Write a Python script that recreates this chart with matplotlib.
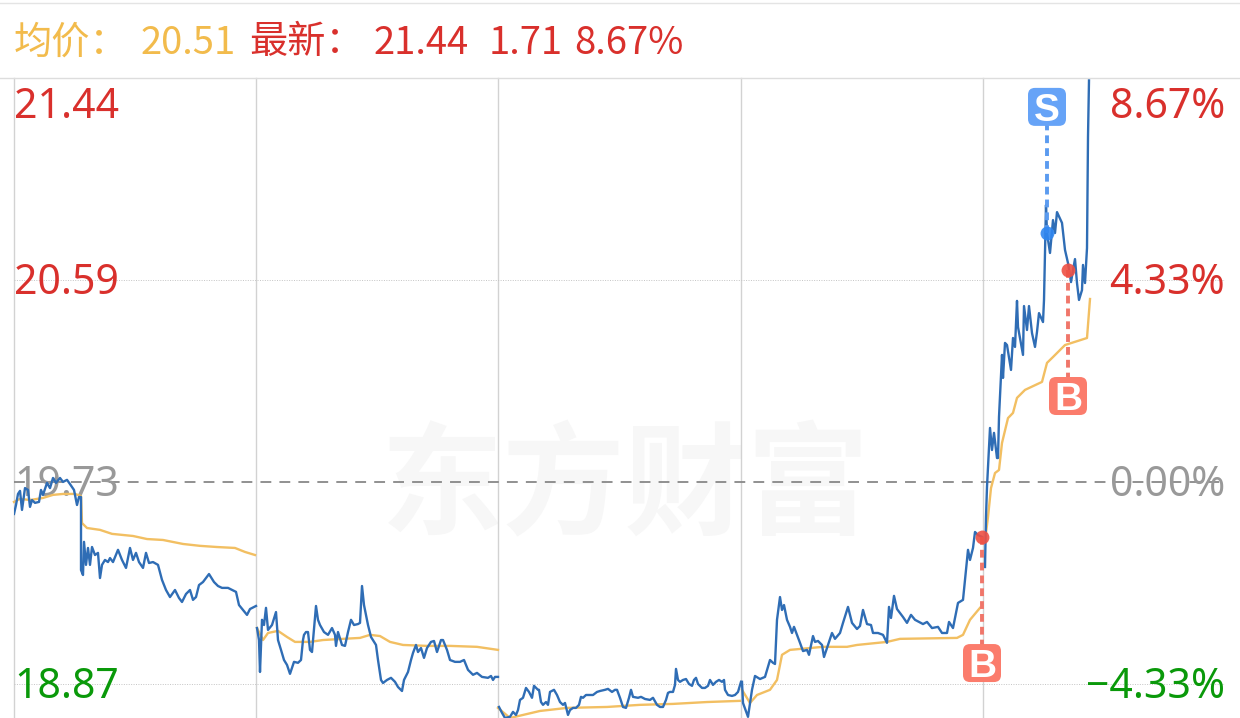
import matplotlib
matplotlib.use("Agg")
import matplotlib.pyplot as plt
from matplotlib.patches import FancyBboxPatch
from matplotlib.transforms import IdentityTransform

plt.rcParams["font.family"] = ["Noto Sans", "Noto Sans CJK SC", "DejaVu Sans"]

# bar index per session, price per bar
idx_1 = [0, 2, 4, 6, 8, 11, 14, 16, 18, 21, 25, 27, 29, 33, 36, 39, 42, 46, 49, 53, 56, 60, 63, 65, 67, 67, 69, 70, 72, 74, 76, 78, 81, 84, 86, 88, 91, 94, 96, 99, 104, 108, 112, 116, 119, 122, 125, 129, 132, 135, 139, 144, 148, 152, 156, 161, 165, 168, 172, 176, 179, 182, 185, 189, 195, 200, 204, 208, 214, 222, 225, 229, 233, 236, 242]
price_1 = [19.594, 19.632, 19.679, 19.692, 19.611, 19.704, 19.696, 19.624, 19.653, 19.641, 19.645, 19.696, 19.675, 19.726, 19.704, 19.747, 19.726, 19.747, 19.730, 19.739, 19.721, 19.696, 19.632, 19.666, 19.666, 19.355, 19.334, 19.475, 19.377, 19.449, 19.377, 19.453, 19.419, 19.428, 19.321, 19.377, 19.398, 19.389, 19.406, 19.389, 19.441, 19.398, 19.364, 19.449, 19.398, 19.428, 19.389, 19.364, 19.428, 19.385, 19.389, 19.377, 19.313, 19.270, 19.240, 19.270, 19.236, 19.219, 19.253, 19.270, 19.228, 19.240, 19.291, 19.304, 19.338, 19.304, 19.287, 19.279, 19.279, 19.262, 19.206, 19.185, 19.164, 19.189, 19.202]

idx_2 = [243, 245, 246, 248, 250, 252, 254, 258, 262, 264, 267, 270, 273, 276, 280, 284, 287, 289, 290, 292, 294, 296, 298, 302, 304, 306, 310, 314, 318, 321, 322, 324, 328, 331, 334, 337, 340, 344, 346, 348, 350, 354, 357, 362, 364, 367, 369, 373, 377, 381, 384, 388, 390, 394, 397, 399, 402, 404, 407, 410, 413, 417, 420, 423, 427, 429, 433, 436, 441, 446, 450, 454, 459, 463, 468, 474, 477, 479, 481, 484]
price_2 = [19.108, 19.057, 18.921, 19.143, 19.121, 19.194, 19.100, 19.121, 19.176, 19.057, 19.015, 18.972, 18.951, 18.913, 18.964, 18.960, 18.972, 19.057, 19.079, 19.091, 19.091, 19.015, 19.006, 19.202, 19.143, 19.121, 19.091, 19.079, 19.108, 19.079, 19.032, 19.091, 19.036, 19.032, 19.091, 19.143, 19.121, 19.125, 19.130, 19.287, 19.206, 19.121, 19.070, 19.036, 18.972, 18.887, 18.874, 18.887, 18.896, 18.879, 18.857, 18.840, 18.887, 18.921, 18.972, 19.002, 19.036, 19.006, 19.023, 18.981, 19.023, 19.049, 19.053, 19.006, 19.057, 19.057, 19.015, 18.972, 18.964, 18.964, 18.972, 18.930, 18.909, 18.917, 18.900, 18.896, 18.904, 18.887, 18.900, 18.900]

idx_3 = [485, 488, 491, 496, 499, 502, 504, 506, 509, 512, 515, 518, 520, 524, 525, 527, 529, 532, 534, 536, 540, 543, 546, 549, 551, 554, 556, 559, 562, 565, 567, 569, 572, 576, 579, 583, 586, 591, 594, 598, 601, 603, 606, 609, 612, 615, 617, 619, 624, 627, 631, 636, 639, 643, 646, 649, 652, 654, 656, 659, 661, 662, 664, 666, 669, 672, 675, 678, 680, 682, 684, 688, 691, 694, 696, 699, 702, 705, 708, 710, 711, 714, 718, 721, 724, 727]
price_3 = [18.772, 18.747, 18.725, 18.730, 18.751, 18.738, 18.759, 18.802, 18.811, 18.853, 18.836, 18.811, 18.862, 18.845, 18.845, 18.793, 18.781, 18.793, 18.781, 18.836, 18.845, 18.823, 18.793, 18.781, 18.789, 18.738, 18.759, 18.768, 18.768, 18.781, 18.815, 18.811, 18.823, 18.823, 18.823, 18.836, 18.840, 18.845, 18.849, 18.836, 18.845, 18.845, 18.811, 18.772, 18.768, 18.811, 18.845, 18.815, 18.811, 18.815, 18.806, 18.802, 18.811, 18.781, 18.772, 18.772, 18.802, 18.832, 18.836, 18.836, 18.866, 18.934, 18.887, 18.879, 18.887, 18.891, 18.870, 18.862, 18.887, 18.896, 18.870, 18.853, 18.853, 18.862, 18.887, 18.866, 18.879, 18.887, 18.879, 18.887, 18.845, 18.823, 18.819, 18.823, 18.836, 18.879]

idx_4 = [728, 729, 734, 738, 741, 746, 751, 756, 759, 761, 763, 766, 768, 770, 773, 776, 778, 780, 783, 786, 789, 793, 795, 799, 801, 804, 808, 810, 813, 818, 821, 826, 829, 834, 838, 843, 846, 849, 853, 857, 859, 864, 869, 873, 875, 877, 880, 883, 889, 893, 897, 901, 909, 913, 918, 924, 928, 933, 935, 939, 944, 949, 953, 954, 956, 959, 961, 964, 968]
price_4 = [18.879, 18.789, 18.730, 18.845, 18.904, 18.891, 18.900, 18.972, 18.960, 18.955, 19.143, 19.240, 19.185, 19.206, 19.143, 19.113, 19.087, 19.113, 19.079, 19.045, 19.010, 19.015, 18.994, 19.074, 19.049, 19.053, 19.036, 18.985, 19.023, 19.087, 19.062, 19.087, 19.130, 19.198, 19.130, 19.104, 19.117, 19.185, 19.125, 19.121, 19.087, 19.087, 19.079, 19.045, 19.198, 19.151, 19.245, 19.189, 19.155, 19.130, 19.164, 19.143, 19.125, 19.134, 19.108, 19.113, 19.087, 19.087, 19.134, 19.108, 19.215, 19.228, 19.398, 19.441, 19.398, 19.449, 19.517, 19.504, 19.496]

idx_5 = [971, 972, 973, 976, 978, 980, 983, 984, 985, 988, 989, 991, 993, 997, 999, 1001, 1003, 1004, 1009, 1010, 1013, 1015, 1018, 1021, 1023, 1025, 1029, 1030, 1032, 1033, 1036, 1039, 1041, 1043, 1048, 1051, 1054, 1057, 1059, 1061, 1063, 1065, 1068, 1069, 1071, 1073, 1074, 1075]
price_5 = [19.368, 19.581, 19.709, 19.960, 19.866, 19.939, 19.832, 19.832, 20.007, 20.271, 20.173, 20.322, 20.313, 20.207, 20.343, 20.305, 20.501, 20.390, 20.271, 20.479, 20.377, 20.479, 20.364, 20.305, 20.369, 20.449, 20.411, 20.505, 20.909, 20.790, 20.705, 20.845, 20.790, 20.879, 20.833, 20.718, 20.662, 20.581, 20.632, 20.679, 20.577, 20.505, 20.547, 20.654, 20.577, 20.726, 21.199, 21.44]

# average price per session
avg_idx_1 = [0, 6, 16, 29, 39, 49, 61, 67, 68, 73, 86, 98, 119, 133, 149, 169, 186, 203, 221, 231, 241]
avg_1 = [19.645, 19.658, 19.653, 19.662, 19.675, 19.679, 19.679, 19.670, 19.555, 19.534, 19.526, 19.509, 19.500, 19.487, 19.483, 19.466, 19.458, 19.453, 19.449, 19.432, 19.419]
avg_idx_2 = [243, 249, 254, 264, 273, 281, 296, 309, 329, 346, 356, 366, 376, 389, 413, 436, 463, 484]
avg_2 = [19.108, 19.057, 19.087, 19.096, 19.070, 19.049, 19.049, 19.057, 19.062, 19.066, 19.079, 19.074, 19.049, 19.036, 19.032, 19.032, 19.028, 19.015]
avg_idx_3 = [484, 496, 509, 526, 553, 593, 626, 659, 693, 726]
avg_3 = [18.768, 18.725, 18.738, 18.755, 18.768, 18.772, 18.781, 18.785, 18.793, 18.798]
avg_idx_4 = [728, 736, 743, 756, 763, 768, 776, 809, 833, 843, 873, 886, 943, 949, 956, 966]
avg_4 = [18.845, 18.789, 18.823, 18.845, 18.887, 18.994, 19.015, 19.028, 19.028, 19.036, 19.049, 19.062, 19.066, 19.079, 19.143, 19.194]
avg_idx_5 = [972, 974, 977, 981, 985, 988, 994, 999, 1003, 1011, 1028, 1033, 1039, 1051, 1073, 1076]
avg_5 = [19.513, 19.581, 19.704, 19.768, 19.781, 19.896, 20.002, 20.024, 20.088, 20.122, 20.156, 20.237, 20.262, 20.313, 20.343, 20.509]

# buy / sell marks
trade_idx = [968, 1033, 1054]
trade_price = [19.496, 20.790, 20.632]
trade_label = ["B", "S", "B"]
trade_label_price = [18.959, 21.327, 20.096]

session_idx = [0, 242, 484, 727, 969]
left_labels = ["21.44", "20.59", "19.73", "18.87"]
right_labels = ["8.67%", "4.33%", "0.00%", "\u22124.33%"]
label_prices = [21.34, 20.59, 19.73, 18.87]
label_colors = ["#d9302c", "#d9302c", "#999999", "#0a990a"]

RED = "#d9302c"
ORANGE = "#f2bb4c"
BLUE = "#2f6db5"
AVG = "#f2bf62"

W, H = 1240, 718
fig = plt.figure(figsize=(W / 100, H / 100), dpi=100)
ax = fig.add_axes([14 / W, 0, 1211 / W, 640 / H])
ax.set_xlim(0, 1211)
ax.set_ylim(18.725, 21.45)
ax.axis("off")

# header
head = [(14, "均价：", ORANGE), (141, "20.51", ORANGE), (249, "最新：", RED),
        (374, "21.44", RED), (489, "1.71", RED), (574, "8.67%", RED)]
for px, s, c in head:
    fig.text(px / W, 1 - 43 / H, s, color=c, fontsize=27.5, va="center", ha="left",
             family=["Noto Sans CJK SC", "DejaVu Sans"])

fig.add_artist(plt.Line2D([0, 1], [1 - 77.5 / H] * 2, color="#dddddd", lw=1))
fig.add_artist(plt.Line2D([0, 1], [1 - 3 / H] * 2, color="#e4e4e4", lw=1))

# watermark
ax.text(611, 19.70, "东方财富", color="#f7f7f7", fontsize=88, fontweight="bold",
        ha="center", va="center", family=["Noto Sans CJK SC"], zorder=0)

# grid
for s in session_idx:
    ax.axvline(s, color="#d2d2d2", lw=1, zorder=1, clip_on=False)
for p in [20.59, 18.87]:
    ax.axhline(p, color="#c4c4c4", lw=0.7, ls=(0, (1, 1.5)), zorder=1)
ax.axhline(19.73, color="#888888", lw=1.3, ls=(0, (6, 4.5)), zorder=1)

# axis labels, nudged down a little so the digits sit on the grid lines
for p, l, r, c in zip(label_prices, left_labels, right_labels, label_colors):
    ax.annotate(l, (0, p), xytext=(0, -2.5), textcoords="offset points", color=c, fontsize=29.5,
                ha="left", va="center", zorder=2, annotation_clip=False)
    ax.annotate(r, (1211, p), xytext=(0, -2.5), textcoords="offset points", color=c, fontsize=29.5,
                ha="right", va="center", zorder=2, annotation_clip=False)

# lines
for x, y in [(avg_idx_1, avg_1), (avg_idx_2, avg_2), (avg_idx_3, avg_3), (avg_idx_4, avg_4), (avg_idx_5, avg_5)]:
    ax.plot(x, y, color=AVG, lw=1.7, zorder=3, clip_on=False)
for x, y in [(idx_1, price_1), (idx_2, price_2), (idx_3, price_3), (idx_4, price_4), (idx_5, price_5)]:
    ax.plot(x, y, color=BLUE, lw=1.7, zorder=4)

# trade marks
fig.canvas.draw()
for i, p, t, lp in zip(trade_idx, trade_price, trade_label, trade_label_price):
    line_c = "#5b9bf0" if t == "S" else "#f0766a"
    dot_c = "#2f86f0" if t == "S" else "#ee5044"
    box_c = "#66a3f7" if t == "S" else "#fb7c6c"
    ax.plot([i, i], [p, lp], color=line_c, lw=2.8, ls=(0, (2, 1.3)), zorder=5)
    ax.scatter([i], [p], s=100, color=dot_c, alpha=0.9, linewidths=0, zorder=6)
    px, py = ax.transData.transform((i, lp))
    ax.add_patch(FancyBboxPatch((px - 13, py - 13), 26, 26, boxstyle="round,pad=6,rounding_size=7",
                                fc=box_c, ec="none", transform=IdentityTransform(), zorder=7, clip_on=False))
    ax.text(i, lp, t, color="white", fontsize=28, fontweight="bold", ha="center", va="center_baseline", zorder=8,
            family=["Liberation Sans"])

fig.savefig("out.png", dpi=100)
